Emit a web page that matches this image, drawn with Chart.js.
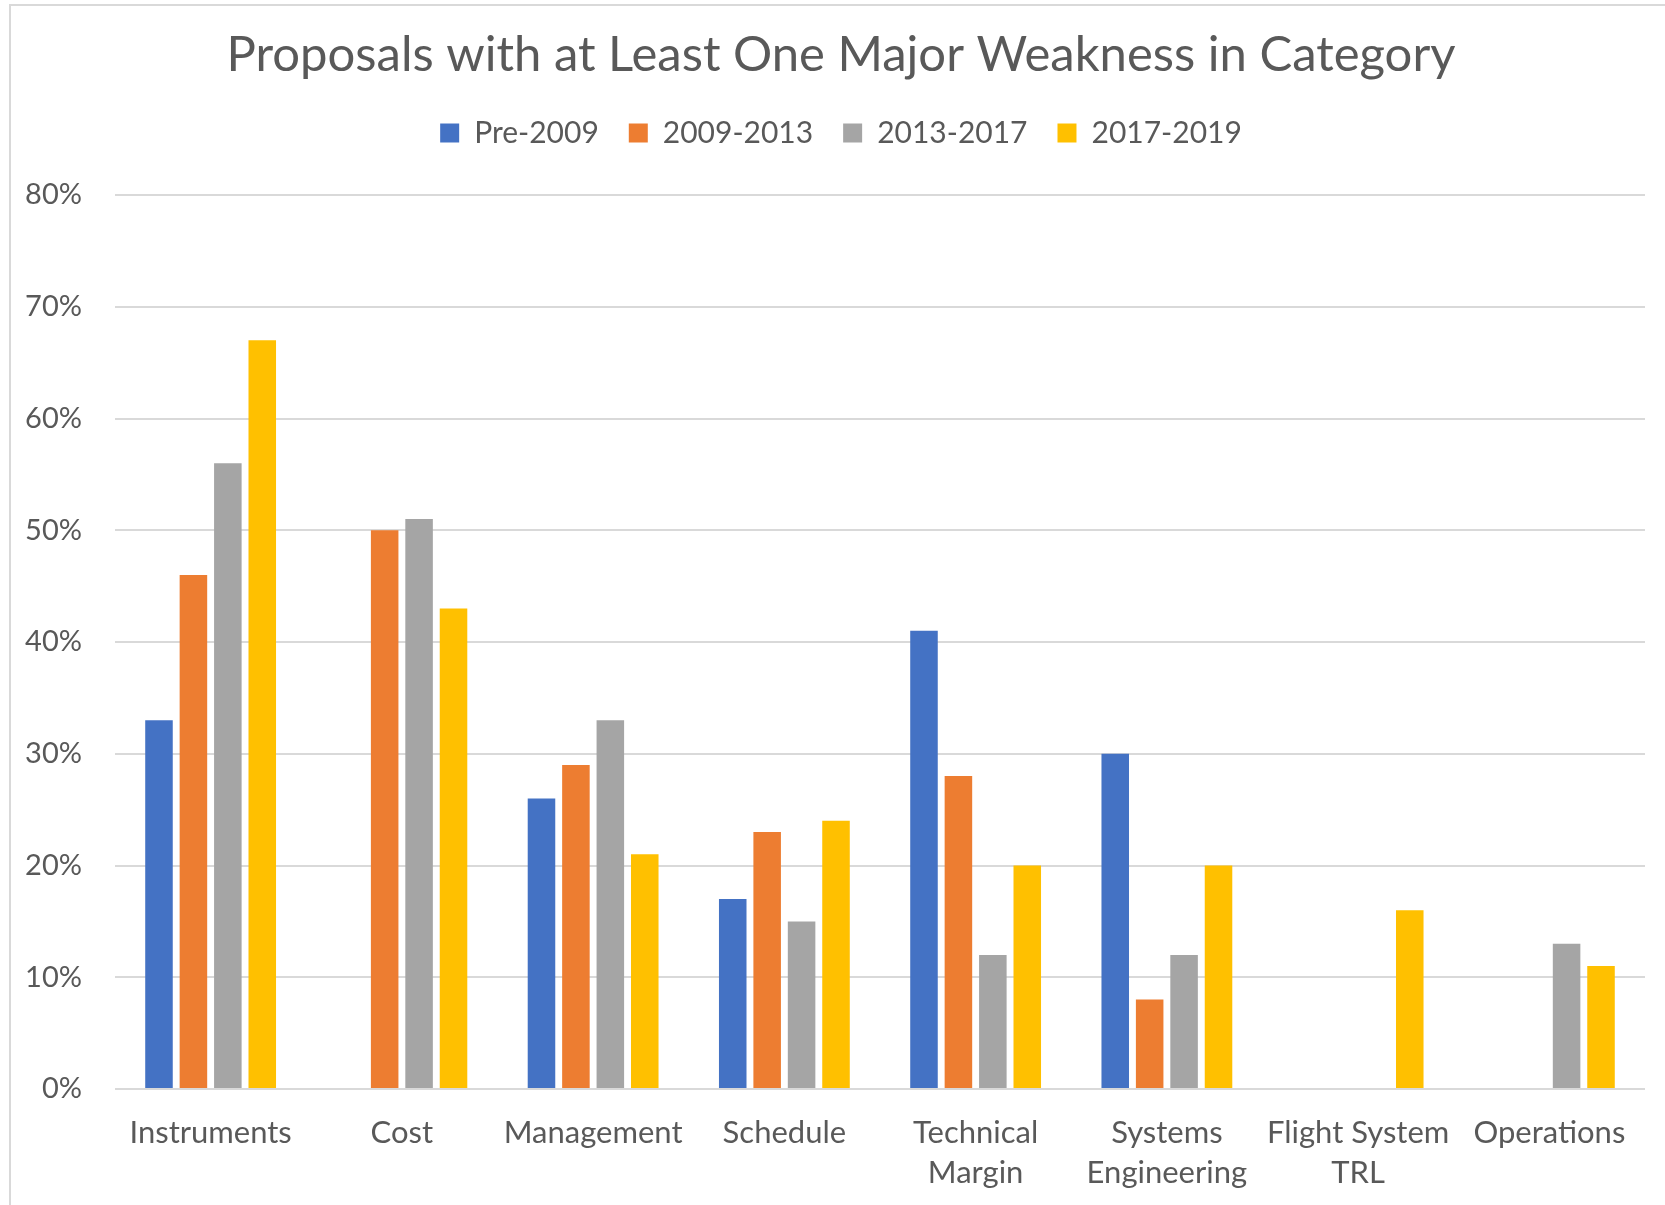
<!DOCTYPE html>
<html>
<head>
<meta charset="utf-8">
<script src="https://cdn.jsdelivr.net/npm/chart.js@4.4.1/dist/chart.umd.min.js"></script>
<style>
    html, body { margin: 0; padding: 0; background: #fff; }
    #wrap { position: relative; width: 1665px; height: 1205px; }
    #frame {
        position: absolute; left: 9px; top: 4px; right: -4px; bottom: -4px;
        border-left: 2px solid #d9d9d9; border-top: 2px solid #d9d9d9;
        pointer-events: none;
    }
</style>
</head>
<body>
<div id="wrap">
    <canvas id="weaknessChart"></canvas>
    <div id="frame"></div>
</div>
<script>
// categories and share of proposals (%) per period
const categories = [
    "Instruments", "Cost", "Management", "Schedule",
    ["Technical", "Margin"], ["Systems", "Engineering"],
    ["Flight System", "TRL"], "Operations"
];
const periods = ["Pre-2009", "2009-2013", "2013-2017", "2017-2019"];
const pre2009 = [33, null, 26, 17, 41, 30, null, null];
const y2009to2013 = [46, 50, 29, 23, 28, 8, null, null];
const y2013to2017 = [56, 51, 33, 15, 12, 12, null, 13];
const y2017to2019 = [67, 43, 21, 24, 20, 20, 16, 11];
const yMax = 80;
const yStep = 10;

const colors = ["#4472C4", "#ED7D31", "#A5A5A5", "#FFC000"];
const textColor = "#595959";
const gridColor = "#d9d9d9";
const fontFamily = "Lato, 'Noto Sans', sans-serif";

const seriesData = [pre2009, y2009to2013, y2013to2017, y2017to2019];

const ctx = document.getElementById("weaknessChart").getContext("2d");
new Chart(ctx, {
    type: "bar",
    data: {
        labels: categories,
        datasets: periods.map((name, i) => ({
            label: name,
            data: seriesData[i],
            backgroundColor: colors[i],
            categoryPercentage: 0.72,
            barPercentage: 0.8,
            xAxisID: "x",
            yAxisID: "y"
        }))
    },
    options: {
        responsive: true,
        maintainAspectRatio: false,
        animation: false,
        layout: { padding: { left: 17, right: 0, top: 0, bottom: 0 } },
        plugins: {
            title: {
                display: true,
                text: "Proposals with at Least One Major Weakness in Category",
                color: textColor,
                font: { family: fontFamily, size: 49, weight: "normal", lineHeight: 1 },
                padding: { top: 31, bottom: 8 }
            },
            legend: {
                position: "top",
                labels: {
                    color: textColor,
                    font: { family: fontFamily, size: 30 },
                    boxWidth: 19,
                    boxHeight: 19,
                    padding: 30
                }
            },
            tooltip: { enabled: false }
        },
        scales: {
            x: {
                grid: { display: false, drawTicks: false },
                border: { display: false },
                ticks: {
                    color: textColor,
                    font: { family: fontFamily, size: 31, lineHeight: 1.29 },
                    padding: 24,
                    maxRotation: 0,
                    autoSkip: false
                },
                afterFit: (scale) => { scale.height = 116; }
            },
            // empty top axis leaves the gap under the legend
            xTop: {
                position: "top",
                grid: { display: false },
                border: { display: false },
                ticks: { display: false },
                afterFit: (scale) => { scale.height = 37; }
            },
            y: {
                min: 0,
                max: yMax,
                grid: { color: gridColor, lineWidth: 2, drawTicks: false },
                border: { display: false },
                ticks: {
                    stepSize: yStep,
                    color: textColor,
                    font: { family: fontFamily, size: 29 },
                    padding: 33,
                    callback: (v) => v + "%"
                },
                afterFit: (scale) => { scale.width = 98; }
            },
            // empty right axis keeps a margin after the gridlines
            yRight: {
                position: "right",
                grid: { display: false },
                border: { display: false },
                ticks: { display: false },
                afterFit: (scale) => { scale.width = 20; }
            }
        }
    }
});
</script>
</body>
</html>
